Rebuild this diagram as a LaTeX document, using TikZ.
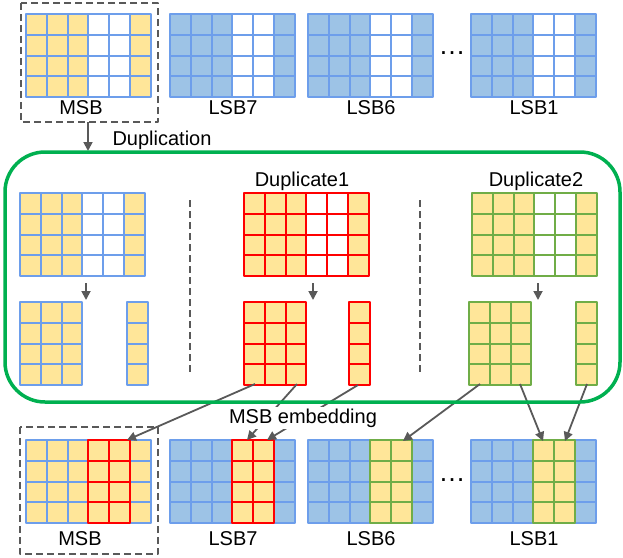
\documentclass[tikz,border=0pt]{standalone}
\usepackage{fontspec}
\setmainfont{Liberation Sans}
\usetikzlibrary{arrows.meta}
\definecolor{cellyel}{HTML}{FFE699}
\definecolor{cellblu}{HTML}{9DC3E6}
\definecolor{lineblu}{HTML}{6D9EEB}
\definecolor{linered}{HTML}{FF0000}
\definecolor{linegrn}{HTML}{70AD47}
\definecolor{boxgrn}{HTML}{00B050}
\definecolor{arrgray}{HTML}{595959}

\def\cs{20.8} % cell size
% one column of four cells: x, y, line colour, fill colour
\newcommand{\bitcol}[4]{%
	\foreach \row in {0,...,3}
	{\draw[#3,fill=#4,line width=2pt] (#1,#2+\row*\cs) rectangle ++(\cs,\cs);}}
% a block of columns: x, y, line colour, list of fills
\newcommand{\bitgrid}[4]{%
	\foreach \f [count=\col from 0] in {#4}
	{\bitcol{#1+\col*\cs}{#2}{#3}{\f}}}

\begin{document}
\begin{tikzpicture}[x=1pt,y=-1pt,line join=round,
	>={Triangle[length=9pt,width=9pt]},
	arr/.style={->,draw=arrgray,line width=1.8pt},
	sep/.style={draw=arrgray,dash pattern=on 7pt off 4pt,line width=1.8pt},
	lbl/.style={anchor=base,inner sep=0pt,font=\fontsize{20}{24}\selectfont},
	dots/.style={anchor=base,inner sep=0pt,font=\fontsize{27}{30}\selectfont}]
	\useasboundingbox (0,0) rectangle (623,557);
	
	% bit planes
	\bitgrid{26}{14}{lineblu}{cellyel,cellyel,cellyel,white,white,cellyel}
	\bitgrid{170}{14}{lineblu}{cellblu,cellblu,cellblu,white,white,cellblu}
	\bitgrid{308}{14}{lineblu}{cellblu,cellblu,cellblu,white,white,cellblu}
	\bitgrid{471}{14}{lineblu}{cellblu,cellblu,cellblu,white,white,cellblu}
	\node[lbl] (msbT) at (81,114) {MSB};
	\node[lbl] (lsb7T) at (233,114) {LSB7};
	\node[lbl] (lsb6T) at (371,114) {LSB6};
	\node[lbl] (lsb1T) at (534,114) {LSB1};
	\node[dots] (dotsT) at (452,54) {\dots};
	\draw[sep] (21,3) rectangle (158,122);
	
	% duplication
	\coordinate (dupA) at (88,122); \coordinate (dupB) at (88,151);
	\draw[arr] (dupA) -- (dupB);
	\node[lbl] (dupL) at (162,145) {Duplication};
	
	\bitgrid{20}{193}{lineblu}{cellyel,cellyel,cellyel,white,white,cellyel}
	\bitgrid{244}{193}{linered}{cellyel,cellyel,cellyel,white,white,cellyel}
	\bitgrid{472}{193}{linegrn}{cellyel,cellyel,cellyel,white,white,cellyel}
	\node[lbl] (dup1L) at (302,186) {Duplicate1};
	\node[lbl] (dup2L) at (536,186) {Duplicate2};
	\draw[sep] (190,200) -- (190,372);
	\draw[sep] (420,200) -- (420,372);
	
	\foreach \x [count=\k] in {86,313,538}{
		\coordinate (sa\k) at (\x,283); \coordinate (sb\k) at (\x,300);
		\draw[arr] (sa\k) -- (sb\k);}
	
	\bitgrid{20}{302}{lineblu}{cellyel,cellyel,cellyel}
	\bitgrid{127}{302}{lineblu}{cellyel}
	\bitgrid{244}{302}{linered}{cellyel,cellyel,cellyel}
	\bitgrid{349}{302}{linered}{cellyel}
	\bitgrid{469}{302}{linegrn}{cellyel,cellyel,cellyel}
	\bitgrid{576}{302}{linegrn}{cellyel}
	
	% embedded planes
	\bitgrid{26}{440}{lineblu}{cellyel,cellyel,cellyel,cellyel,cellyel,cellyel}
	\bitgrid{26+3*\cs}{440}{linered}{cellyel,cellyel}
	\bitgrid{170}{440}{lineblu}{cellblu,cellblu,cellblu,cellblu,cellblu,cellblu}
	\bitgrid{170+3*\cs}{440}{linered}{cellyel,cellyel}
	\bitgrid{308}{440}{lineblu}{cellblu,cellblu,cellblu,cellblu,cellblu,cellblu}
	\bitgrid{308+3*\cs}{440}{linegrn}{cellyel,cellyel}
	\bitgrid{471}{440}{lineblu}{cellblu,cellblu,cellblu,cellblu,cellblu,cellblu}
	\bitgrid{471+3*\cs}{440}{linegrn}{cellyel,cellyel}
	\node[lbl] (msbB) at (80,545) {MSB};
	\node[lbl] (lsb7B) at (233,545) {LSB7};
	\node[lbl] (lsb6B) at (371,545) {LSB6};
	\node[lbl] (lsb1B) at (534,545) {LSB1};
	\node[dots] (dotsB) at (452,481) {\dots};
	\draw[sep] (20,427) rectangle (158,554);
	
	% MSB embedding
	\coordinate (d1a) at (255,384); \coordinate (d1b) at (297,384);
	\coordinate (d1c) at (358,385);
	\coordinate (d2a) at (480,384); \coordinate (d2b) at (520,384);
	\coordinate (d2c) at (587,384);
	\coordinate (tmsb) at (127,440); \coordinate (t7a) at (247,440);
	\coordinate (t7b) at (267,440); \coordinate (t6) at (403,441);
	\coordinate (t1a) at (543,441); \coordinate (t1b) at (565,441);
	\draw[arr] (d1a) -- (tmsb);
	\draw[arr] (d1b) -- (t7a);
	\draw[arr] (d1c) -- (t7b);
	\draw[arr] (d2a) -- (t6);
	\draw[arr] (d2b) -- (t1a);
	\draw[arr] (d2c) -- (t1b);
	\node[lbl,fill=white,inner sep=2pt] (embL) at (303,423) {MSB embedding};
	
	\draw[boxgrn,line width=3.5pt,rounded corners=40pt] (5,152) rectangle (620,402);
\end{tikzpicture}
\end{document}
